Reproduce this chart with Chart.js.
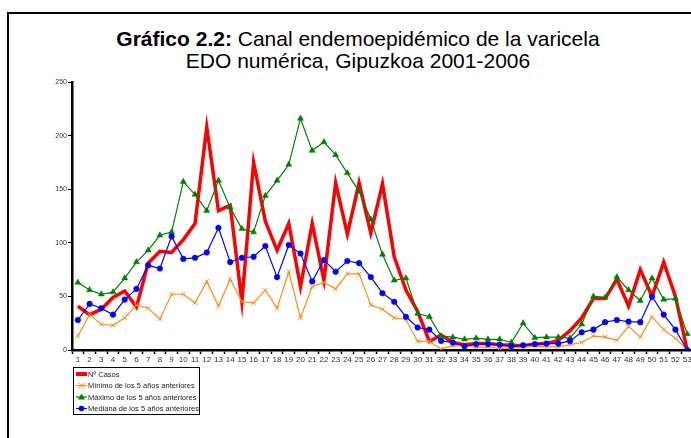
<!DOCTYPE html>
<html>
<head>
<meta charset="utf-8">
<script src="https://cdn.jsdelivr.net/npm/chart.js@4.4.1/dist/chart.umd.min.js"></script>
<style>
  html, body { margin: 0; padding: 0; background: #fff; overflow: hidden; width: 691px; height: 438px; }
  #frame { position: absolute; left: 7px; top: 12px; width: 720px; height: 460px; border: 2px solid #000; box-sizing: border-box; }
  #title { position: absolute; left: 0; top: 28px; width: 716px; text-align: center; font-family: "Liberation Sans", Arial, sans-serif; font-size: 21px; line-height: 21.5px; color: #000; }
  #wrap { position: absolute; left: 0; top: 0; width: 700px; height: 438px; }
</style>
</head>
<body>
<div id="frame"></div>
<div id="title"><b>Gráfico 2.2:</b> Canal endemoepidémico de la varicela<br>EDO numérica, Gipuzkoa 2001-2006</div>
<div id="wrap"><canvas id="c" width="700" height="438"></canvas></div>
<script>
const weeks = Array.from({length: 53}, (_, i) => String(i + 1));
const yTicks = [0, 50, 100, 150, 200, 250];
const seriesNames = ["Nº Casos", "Mínimo de los 5 años anteriores", "Máximo de los 5 años anteriores", "Mediana de los 5 años anteriores"];

const casos = [41, 33, 38, 49, 55, 40, 81, 92, 91, 103, 118, 208, 130, 135, 45, 175, 120, 93, 118, 59, 118, 65, 156, 108, 156, 109, 155, 87, 56, 36, 8, 14, 7, 5, 6, 6, 5, 4.5, 4, 5.5, 6, 9, 18, 30, 48, 48, 66, 41, 75, 50, 82, 50, 0];
const minimo = [13, 33, 24, 23, 30, 42, 39, 29, 52, 52, 44, 64, 41, 66, 45, 44, 56, 39, 73, 30, 59, 63, 57, 71, 71, 42, 38, 30, 28.5, 8, 8, 1, 4, 3.5, 2.5, 3, 1.5, 2, 2.5, 3.5, 3, 3, 5, 7, 13, 12, 9, 22, 12, 31, 19, 11, 0];
const maximo = [63, 56, 52, 54, 67, 82, 93, 107, 110, 157, 145, 130, 158, 133, 113, 110, 144, 158, 173, 216, 186, 194, 182, 165, 148, 122, 89, 65, 67, 34, 31, 13, 12, 10, 11, 10, 10, 7, 25, 11.5, 12, 12, 11, 24, 50, 49, 68, 56, 46, 67, 47, 48, 15];
const mediana = [28, 43, 39, 33, 47, 57, 79, 76, 106, 85, 86, 91, 114, 82, 86, 87, 97, 68, 98, 90, 64, 84, 73, 83, 81, 68, 53, 45, 31, 21, 19, 8.5, 7, 3.5, 5.5, 5.5, 5, 3.5, 4.5, 5.5, 6, 6, 8.5, 16.5, 19, 26, 28, 26.5, 26, 50, 33, 19, 0];

const FONT = "'Liberation Sans', Arial, sans-serif";

const legendPlugin = {
  id: 'boxLegend',
  afterDraw(chart) {
    const ctx = chart.ctx;
    const x0 = 73, y0 = 367, w = 126, h = 47;
    ctx.save();
    ctx.strokeStyle = '#000';
    ctx.lineWidth = 1;
    ctx.strokeRect(x0 + 0.5, y0 + 0.5, w, h);
    ctx.font = "7.5px " + FONT;
    ctx.textBaseline = 'middle';
    ctx.fillStyle = '#222';
    const rows = [374, 385.5, 397, 408.5];
    chart.data.datasets.forEach((ds, i) => {
      const y = rows[i];
      ctx.strokeStyle = ds.borderColor;
      ctx.lineWidth = i === 0 ? 4 : 1.2;
      ctx.beginPath();
      ctx.moveTo(76, y);
      ctx.lineTo(87, y);
      ctx.stroke();
      ctx.fillStyle = ds.borderColor;
      ctx.strokeStyle = ds.borderColor;
      ctx.lineWidth = 1;
      if (ds.pointStyle === 'crossRot') {
        ctx.beginPath();
        ctx.moveTo(78.5, y - 2.5); ctx.lineTo(84.5, y + 2.5);
        ctx.moveTo(84.5, y - 2.5); ctx.lineTo(78.5, y + 2.5);
        ctx.stroke();
      } else if (ds.pointStyle === 'triangle') {
        ctx.beginPath();
        ctx.moveTo(81.5, y - 3.5); ctx.lineTo(85, y + 2.5); ctx.lineTo(78, y + 2.5);
        ctx.closePath(); ctx.fill();
      } else if (ds.pointStyle === 'circle') {
        ctx.beginPath();
        ctx.arc(81.5, y, 2.8, 0, Math.PI * 2); ctx.fill();
      }
      ctx.fillStyle = '#222';
      ctx.fillText(ds.label, 88, y + 0.5);
    });
    ctx.restore();
  }
};

new Chart(document.getElementById('c'), {
  type: 'line',
  data: {
    labels: weeks,
    datasets: [
      { label: seriesNames[0], data: casos, borderColor: '#ff0000', backgroundColor: '#ff0000', borderWidth: 3.5, pointRadius: 0, tension: 0, order: 4 },
      { label: seriesNames[1], data: minimo, borderColor: '#ff8c1a', backgroundColor: '#ff8c1a', borderWidth: 1.2, pointStyle: 'crossRot', pointRadius: 3, pointBorderWidth: 1, tension: 0, order: 3 },
      { label: seriesNames[2], data: maximo, borderColor: '#008000', backgroundColor: '#008000', borderWidth: 1.2, pointStyle: 'triangle', pointRadius: 3.5, pointBorderWidth: 0.5, tension: 0, order: 2 },
      { label: seriesNames[3], data: mediana, borderColor: '#0000ff', backgroundColor: '#0000ff', borderWidth: 1.2, pointStyle: 'circle', pointRadius: 2.8, pointBorderWidth: 0.5, tension: 0, order: 1 }
    ]
  },
  options: {
    responsive: false,
    animation: false,
    devicePixelRatio: 1,
    layout: { padding: { left: 0, right: 7, top: 82, bottom: 68 } },
    plugins: { legend: { display: false }, title: { display: false }, tooltip: { enabled: false } },
    scales: {
      x: {
        offset: true,
        afterFit(s) { s.height = 20; },
        grid: { display: true, drawOnChartArea: false, drawTicks: true, tickLength: 4, tickWidth: 1.5, color: '#000', offset: true },
        border: { display: true, color: '#000', width: 2.5 },
        ticks: { autoSkip: false, maxRotation: 0, minRotation: 0, padding: 1, color: '#333', font: { family: FONT, size: 8 } }
      },
      y: {
        min: 0, max: 250,
        afterFit(s) { s.width = 72; },
        afterBuildTicks(s) { s.ticks = yTicks.map(v => ({ value: v })); },
        grid: { display: true, drawOnChartArea: false, drawTicks: true, tickLength: 4, tickWidth: 1, color: '#000' },
        border: { display: true, color: '#000', width: 2.5 },
        ticks: { padding: 1, color: '#333', font: { family: FONT, size: 7 } }
      }
    }
  },
  plugins: [legendPlugin]
});
</script>
</body>
</html>
